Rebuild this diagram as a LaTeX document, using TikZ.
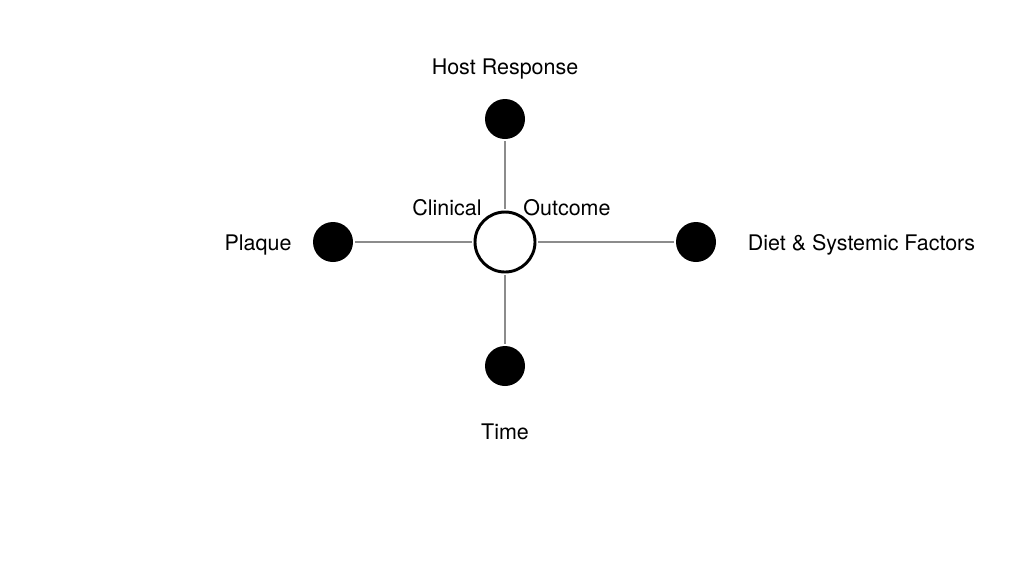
\documentclass[tikz,border=0pt]{standalone}
\usepackage{fontspec}
\setmainfont{TeX Gyre Heros}
\begin{document}
\begin{tikzpicture}[x=0.75pt,y=-0.75pt,
  dot/.style={circle,fill=black,minimum size=30pt,inner sep=0pt,outer sep=1.5pt},
  hub/.style={circle,draw=black,line width=2.2pt,fill=white,minimum size=45pt,inner sep=0pt,outer sep=2.5pt},
  link/.style={draw=black!45,line width=2.2pt},
  lbl/.style={font=\fontsize{16.1}{19}\selectfont,inner sep=0pt,anchor=base}]
\useasboundingbox (0,0) rectangle (1024,576);
\node[hub] (c) at (505,242) {};
\node[dot] (t) at (505,119) {};
\node[dot] (l) at (333,242) {};
\node[dot] (r) at (696,242) {};
\node[dot] (b) at (505,366) {};
\draw[link] (c) -- (t);
\draw[link] (c) -- (l);
\draw[link] (c) -- (r);
\draw[link] (c) -- (b);
\node[lbl] (lt) at (505,74) {Host Response};
\node[lbl] (ll) at (258,250.5) {Plaque};
\node[lbl] (lr) at (861.5,250.5) {Diet \& Systemic Factors};
\node[lbl] (lb) at (505,439) {Time};
\node[lbl] (lc1) at (447,215) {Clinical};
\node[lbl] (lc2) at (567,215) {Outcome};
\end{tikzpicture}
\end{document}
